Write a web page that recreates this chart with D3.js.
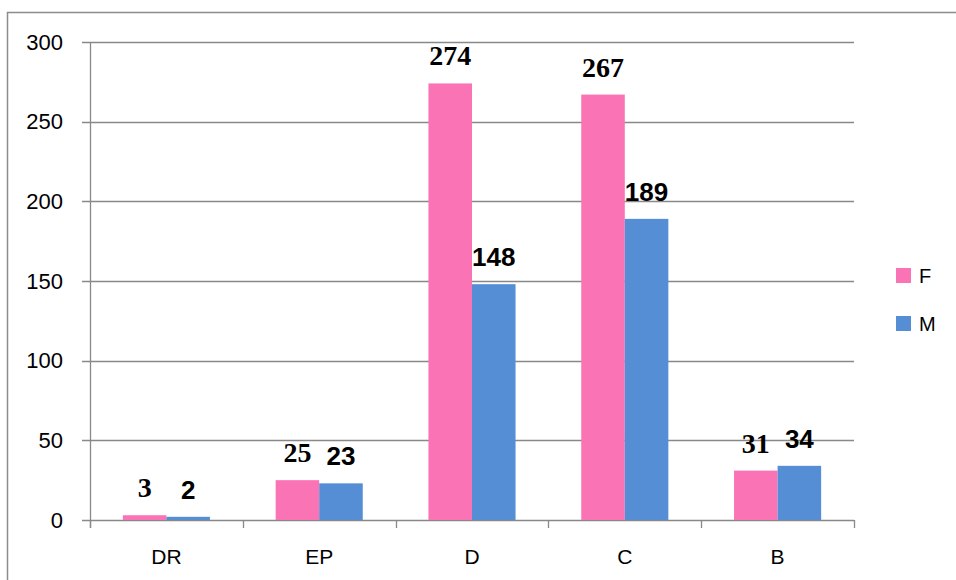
<!DOCTYPE html>
<html>
<head>
<meta charset="utf-8">
<script src="https://cdn.jsdelivr.net/npm/d3@7"></script>
<style>
    html, body { margin: 0; padding: 0; background: #fff; overflow: hidden; }
</style>
</head>
<body>
<div id="chart"></div>
<script>
const categories = ["DR", "EP", "D", "C", "B"];
const seriesNames = ["F", "M"];
const valuesF = [3, 25, 274, 267, 31];
const valuesM = [2, 23, 148, 189, 34];
const yTicks = [0, 50, 100, 150, 200, 250, 300];

const colors = { F: "#fa74b5", M: "#558ed5" };
const labelFonts = {
    F: "bold 28px 'Liberation Serif', 'Times New Roman', serif",
    M: "bold 26px 'Liberation Sans', Arial, sans-serif"
};
const W = 956, H = 580;
const margin = { top: 42, right: 102, bottom: 60, left: 90 };
const width = W - margin.left - margin.right;   // 764
const height = H - margin.top - margin.bottom;  // 478

const svg = d3.select("#chart").append("svg")
    .attr("width", W)
    .attr("height", H);

// outer chart border (runs off the right and bottom edges)
svg.append("rect")
    .attr("x", 7.5).attr("y", 12.5)
    .attr("width", W + 20).attr("height", H + 20)
    .attr("fill", "none")
    .attr("stroke", "#8c8c8c")
    .attr("stroke-width", 1.5);

const g = svg.append("g")
    .attr("transform", `translate(${margin.left}, ${margin.top})`);

const x0 = d3.scaleBand().domain(categories).range([0, width]).padding(0);
const x1 = d3.scaleBand().domain(seriesNames)
    .range([x0.bandwidth() * 0.215, x0.bandwidth() * 0.785]).padding(0);
const y = d3.scaleLinear().domain([0, 300]).range([height, 0]);

const gridColor = "#898989";

// gridlines
g.append("g")
    .selectAll("line")
    .data(yTicks)
    .join("line")
    .attr("x1", -8).attr("x2", width)
    .attr("y1", d => Math.round(y(d)) + 0.5)
    .attr("y2", d => Math.round(y(d)) + 0.5)
    .attr("stroke", gridColor)
    .attr("stroke-width", 1.3);

// y axis line + labels
g.append("line")
    .attr("x1", 0.5).attr("x2", 0.5)
    .attr("y1", 0).attr("y2", height + 8)
    .attr("stroke", gridColor)
    .attr("stroke-width", 1.3);

g.append("g")
    .selectAll("text")
    .data(yTicks)
    .join("text")
    .attr("x", -27)
    .attr("y", d => y(d))
    .attr("dy", "0.35em")
    .attr("text-anchor", "end")
    .attr("font-family", "'Liberation Sans', Arial, sans-serif")
    .attr("font-size", 22)
    .attr("fill", "#000")
    .text(d => d);

// x axis ticks
const xBoundaries = categories.map(c => x0(c)).concat(width);
g.append("g")
    .selectAll("line")
    .data(xBoundaries)
    .join("line")
    .attr("x1", d => Math.round(d) + 0.5)
    .attr("x2", d => Math.round(d) + 0.5)
    .attr("y1", height).attr("y2", height + 8)
    .attr("stroke", gridColor)
    .attr("stroke-width", 1.3);

g.append("g")
    .selectAll("text")
    .data(categories)
    .join("text")
    .attr("x", d => x0(d) + x0.bandwidth() / 2)
    .attr("y", height + 44)
    .attr("text-anchor", "middle")
    .attr("font-family", "'Liberation Sans', Arial, sans-serif")
    .attr("font-size", 21)
    .attr("fill", "#000")
    .text(d => d);

// bars
const rows = categories.map((c, i) => ({ cat: c, F: valuesF[i], M: valuesM[i] }));

const groups = g.append("g")
    .selectAll("g")
    .data(rows)
    .join("g")
    .attr("transform", d => `translate(${x0(d.cat)}, 0)`);

groups.selectAll("rect")
    .data(d => seriesNames.map(s => ({ s, v: d[s] })))
    .join("rect")
    .attr("x", d => x1(d.s))
    .attr("y", d => y(d.v))
    .attr("width", x1.bandwidth())
    .attr("height", d => y(0) - y(d.v))
    .attr("fill", d => colors[d.s]);

groups.selectAll("text")
    .data(d => seriesNames.map(s => ({ s, v: d[s] })))
    .join("text")
    .attr("x", d => x1(d.s) + x1.bandwidth() / 2)
    .attr("y", d => y(d.v) - 18)
    .attr("text-anchor", "middle")
    .style("font", d => labelFonts[d.s])
    .attr("fill", "#000")
    .text(d => d.v);

// legend
const legend = svg.append("g")
    .attr("transform", "translate(896, 268)");

const legendItems = legend.selectAll("g")
    .data(seriesNames)
    .join("g")
    .attr("transform", (d, i) => `translate(0, ${i * 48})`);

legendItems.append("rect")
    .attr("width", 15).attr("height", 15)
    .attr("fill", d => colors[d]);

legendItems.append("text")
    .attr("x", 23)
    .attr("y", 8)
    .attr("dy", "0.35em")
    .attr("font-family", "'Liberation Sans', Arial, sans-serif")
    .attr("font-size", 20)
    .attr("fill", "#000")
    .text(d => d);
</script>
</body>
</html>
